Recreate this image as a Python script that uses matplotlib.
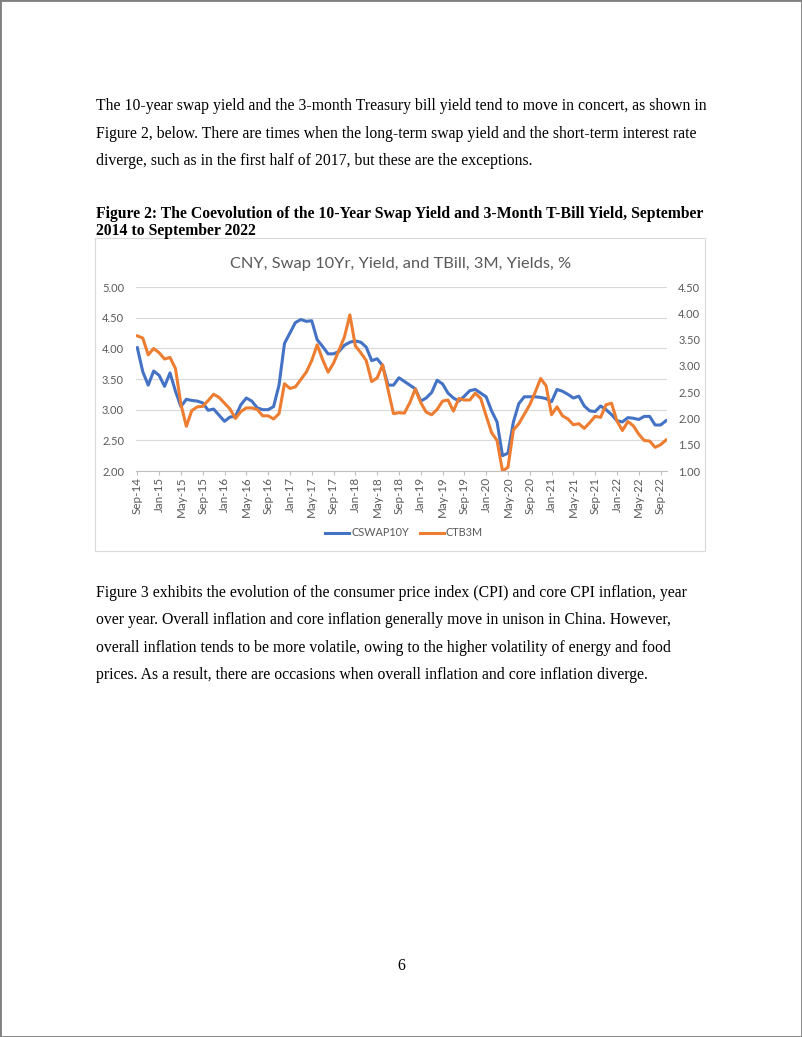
import numpy as np
import matplotlib
matplotlib.use("Agg")
import matplotlib.pyplot as plt
from matplotlib.patches import Rectangle
from matplotlib.lines import Line2D

W, H = 802, 1037

# monthly observations, Sep-14 .. Oct-22
cswap10y = [4.01, 3.62, 3.40, 3.63, 3.56, 3.38, 3.60, 3.30, 3.05, 3.17,
            3.15, 3.14, 3.11, 2.99, 3.01, 2.91, 2.81, 2.88, 2.89, 3.08,
            3.19, 3.14, 3.03, 3.00, 3.00, 3.05, 3.40, 4.08, 4.25, 4.42,
            4.47, 4.44, 4.45, 4.14, 4.03, 3.91, 3.91, 3.95, 4.05, 4.10,
            4.12, 4.10, 4.02, 3.80, 3.83, 3.72, 3.40, 3.40, 3.52, 3.46,
            3.40, 3.34, 3.14, 3.19, 3.28, 3.48, 3.42, 3.27, 3.19, 3.14,
            3.22, 3.31, 3.33, 3.27, 3.21, 2.98, 2.80, 2.25, 2.29, 2.80,
            3.10, 3.21, 3.21, 3.21, 3.20, 3.18, 3.13, 3.33, 3.30, 3.25,
            3.19, 3.22, 3.06, 2.98, 2.97, 3.06, 3.00, 2.92, 2.82, 2.80,
            2.87, 2.86, 2.84, 2.89, 2.89, 2.75, 2.75, 2.82]
ctb3m = [3.57, 3.53, 3.21, 3.33, 3.25, 3.13, 3.16, 2.95, 2.27, 1.85,
         2.15, 2.22, 2.23, 2.34, 2.46, 2.40, 2.29, 2.18, 2.00, 2.13,
         2.20, 2.20, 2.17, 2.05, 2.05, 1.99, 2.09, 2.66, 2.57, 2.60,
         2.74, 2.88, 3.10, 3.40, 3.12, 2.88, 3.05, 3.30, 3.55, 3.97,
         3.38, 3.25, 3.10, 2.70, 2.77, 3.02, 2.55, 2.09, 2.11, 2.10,
         2.30, 2.56, 2.30, 2.12, 2.07, 2.17, 2.33, 2.35, 2.14, 2.38,
         2.35, 2.35, 2.48, 2.38, 2.05, 1.73, 1.58, 1.00, 1.07, 1.78,
         1.90, 2.08, 2.26, 2.50, 2.76, 2.62, 2.07, 2.22, 2.05, 1.99,
         1.88, 1.90, 1.81, 1.92, 2.04, 2.02, 2.26, 2.29, 1.95, 1.77,
         1.94, 1.86, 1.70, 1.58, 1.57, 1.45, 1.50, 1.59]
tick_labels = ["Sep-14", "Jan-15", "May-15", "Sep-15", "Jan-16", "May-16",
               "Sep-16", "Jan-17", "May-17", "Sep-17", "Jan-18", "May-18",
               "Sep-18", "Jan-19", "May-19", "Sep-19", "Jan-20", "May-20",
               "Sep-20", "Jan-21", "May-21", "Sep-21", "Jan-22", "May-22",
               "Sep-22"]
left_ticks = [2.0, 2.5, 3.0, 3.5, 4.0, 4.5, 5.0]
right_ticks = [1.0, 1.5, 2.0, 2.5, 3.0, 3.5, 4.0, 4.5]

para1 = ["The 10-year swap yield and the 3-month Treasury bill yield tend to move in concert, as shown in",
         "Figure 2, below. There are times when the long-term swap yield and the short-term interest rate",
         "diverge, such as in the first half of 2017, but these are the exceptions."]
caption = ["Figure 2: The Coevolution of the 10-Year Swap Yield and 3-Month T-Bill Yield, September",
           "2014 to September 2022"]
para2 = ["Figure 3 exhibits the evolution of the consumer price index (CPI) and core CPI inflation, year",
         "over year. Overall inflation and core inflation generally move in unison in China. However,",
         "overall inflation tends to be more volatile, owing to the higher volatility of energy and food",
         "prices. As a result, there are occasions when overall inflation and core inflation diverge."]


def fx(x):
    return x / W


def fy(y):
    return 1 - y / H


fig = plt.figure(figsize=(W / 100, H / 100), dpi=100)
serif = "Liberation Serif"
sans = "Lato"
grey = "#595959"

# page frame
fig.patches.append(Rectangle((0, 0), 1, 1, transform=fig.transFigure, fill=False,
                             edgecolor="#7f7f7f", lw=2.0))

for k, line in enumerate(para1):
    fig.text(fx(96), fy(110 + k * 27.6), line, family=serif, fontsize=11.3, va="baseline")
for k, line in enumerate(caption):
    fig.text(fx(96), fy(218 + k * 17), line, family=serif, fontsize=11.38,
             fontweight="bold", va="baseline")
for k, line in enumerate(para2):
    fig.text(fx(96), fy(597 + k * 27.4), line, family=serif, fontsize=11.3, va="baseline")
fig.text(fx(401), fy(970), "6", family=serif, fontsize=11.3, ha="center", va="baseline")

# chart box
fig.patches.append(Rectangle((fx(95), fy(551)), fx(705) - fx(95), fy(238) - fy(551),
                             transform=fig.transFigure, fill=False, edgecolor="#d9d9d9", lw=0.8))
fig.text(fx(401), fy(268), "CNY, Swap 10Yr, Yield, and TBill, 3M, Yields, %",
         family=sans, fontsize=11.8, color=grey, ha="center", va="baseline")

ax = fig.add_axes([fx(136), fy(471), fx(667) - fx(136), fy(287) - fy(471)])
x = np.arange(len(cswap10y))
ax.plot(x, cswap10y, color="#4472C4", lw=2.2, zorder=3)
ax.set_xlim(-0.24, 97.18)
ax.set_ylim(2.0, 5.0)
ax.set_yticks(left_ticks)
ax.set_yticklabels(["%.2f" % v for v in left_ticks])
ax.grid(axis="y", color="#d9d9d9", lw=0.8)
ax.set_axisbelow(True)
ax.set_xticks(np.arange(0, 97, 4))
ax.set_xticklabels(tick_labels, rotation=90)
for s in ["top", "left", "right"]:
    ax.spines[s].set_visible(False)
ax.spines["bottom"].set_color("#bfbfbf")
ax.tick_params(axis="x", colors="#bfbfbf", length=3, width=0.8, labelcolor=grey,
               labelsize=8.4, pad=1)
ax.tick_params(axis="y", length=0, labelcolor=grey, labelsize=8.0, pad=8.6)
for lab in ax.get_xticklabels() + ax.get_yticklabels():
    lab.set_family(sans)

ax2 = ax.twinx()
ax2.plot(x, ctb3m, color="#ED7D31", lw=2.2, zorder=3)
ax2.set_ylim(1.0, 4.5)
ax2.set_yticks(right_ticks)
ax2.set_yticklabels(["%.2f" % v for v in right_ticks])
for s in ["top", "left", "right", "bottom"]:
    ax2.spines[s].set_visible(False)
ax2.tick_params(axis="y", length=0, labelcolor=grey, labelsize=8.0, pad=8.0)
for lab in ax2.get_yticklabels():
    lab.set_family(sans)

handles = [Line2D([], [], color="#4472C4", lw=2.2), Line2D([], [], color="#ED7D31", lw=2.2)]
fig.legend(handles, ["CSWAP10Y", "CTB3M"], loc="center", bbox_to_anchor=(fx(404), fy(533)),
           ncol=2, frameon=False, prop={"family": sans, "size": 7.8}, handlelength=2.2,
           handletextpad=0.2, columnspacing=1.0, labelcolor=grey)

fig.savefig("out.png", dpi=100, facecolor="white")
